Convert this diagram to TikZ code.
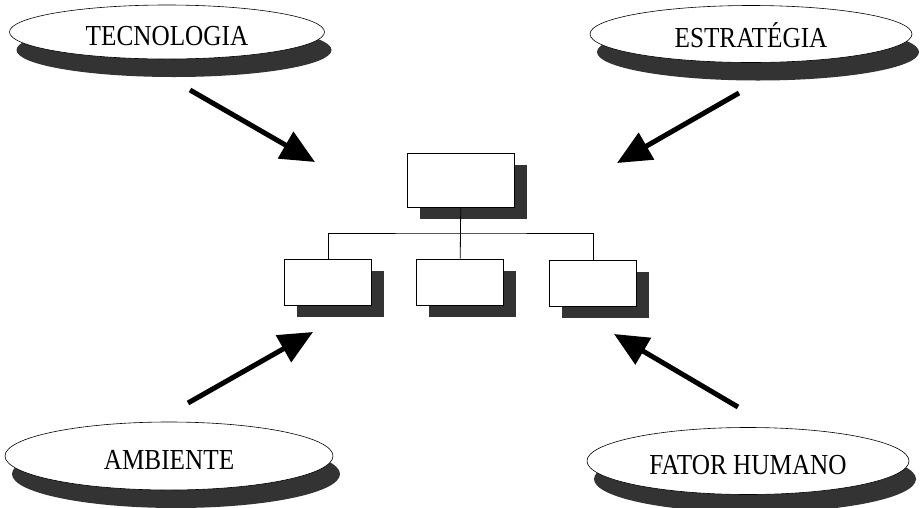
\documentclass[tikz,border=0pt]{standalone}
\usepackage{fontspec}
\newfontfamily\labelfont[FakeStretch=0.87]{Liberation Serif}
\usetikzlibrary{shapes.geometric,shadows,arrows.meta}
\tikzset{
    oval/.style={ellipse,draw,semithick,fill=white,inner sep=0pt,minimum width=322pt,
        text height=26pt,text depth=0pt,font=\labelfont\fontsize{29}{32}\selectfont,
        drop shadow={shadow xshift=7pt,shadow yshift=-18pt,fill=black!80,opacity=1}},
    box/.style={rectangle,draw,semithick,fill=white,minimum width=87pt,minimum height=46pt,
        drop shadow={shadow xshift=12pt,shadow yshift=-12pt,fill=black!80,opacity=1}},
    bigarrow/.style={line width=5pt,-{Triangle[length=34pt,width=30pt]}},
    link/.style={line width=0.8pt}
}
\begin{document}
\begin{tikzpicture}[x=1pt,y=-1pt]
            \useasboundingbox (0,0) rectangle (924,507);
            \node[oval,minimum width=315pt,minimum height=54pt] (tec) at (167,32) {TECNOLOGIA};
            \node[oval,minimum height=57pt] (est) at (751,34) {ESTRATÉGIA};
            \node[oval,minimum width=328pt,minimum height=68pt] (amb) at (169,456) {AMBIENTE};
            \node[oval,minimum height=67pt] (fat) at (748,461) {FATOR HUMANO};
            \node[box,minimum width=107pt,minimum height=54pt] (head) at (461,180) {};
            \node[box] (sub1) at (328,282) {};
            \node[box] (sub2) at (460,282) {};
            \node[box] (sub3) at (593,283) {};
            \coordinate (bus) at (461,233);
            \draw[link] (head) -- (sub2);
            \draw[link] (sub1.north) |- (bus) -| (sub3.north);
            \coordinate (tec-from) at (190,90);
            \coordinate (tec-to) at (315,162);
            \coordinate (est-from) at (739,93);
            \coordinate (est-to) at (617,163);
            \coordinate (amb-from) at (188,403);
            \coordinate (amb-to) at (313,332);
            \coordinate (fat-from) at (738,407);
            \coordinate (fat-to) at (614,334);
            \foreach \n in {tec,est,amb,fat}
                \draw[bigarrow] (\n-from) -- (\n-to);
\end{tikzpicture}
\end{document}
